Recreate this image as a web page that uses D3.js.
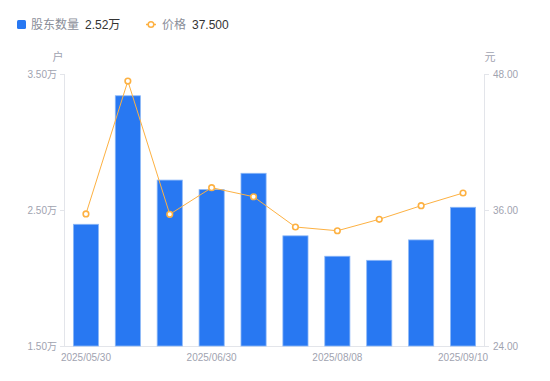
<!DOCTYPE html>
<html>
<head>
<meta charset="utf-8">
<style>
  body { margin: 0; background: #fff; }
  svg { font-family: "Liberation Sans", Arial, "Noto Sans CJK SC", sans-serif; }
</style>
</head>
<body>
<svg width="550" height="381"></svg>
<script src="https://d3js.org/d3.v7.min.js"></script>
<script>
// data
var dates = ["2025/05/30", "2025/06/10", "2025/06/20", "2025/06/30", "2025/07/10",
             "2025/07/31", "2025/08/08", "2025/08/20", "2025/08/31", "2025/09/10"];
var holders = [2.395, 3.34, 2.72, 2.65, 2.77, 2.31, 2.16, 2.13, 2.28, 2.52];   // 万户
var prices = [35.65, 47.38, 35.62, 37.97, 37.17, 34.5, 34.17, 35.18, 36.38, 37.5];
var leftTicks = [1.5, 2.5, 3.5];
var rightTicks = [24, 36, 48];
var shownDates = ["2025/05/30", "2025/06/30", "2025/08/08", "2025/09/10"];

var blue = "#2878F2", orange = "#FDB142", grey = "#9fa3b0", lineGrey = "#e3e5ea";

var svg = d3.select("svg");
var mLeft = 65, mRight = 484, mTop = 74, mBottom = 346;

var x = d3.scaleBand().domain(dates).range([mLeft, mRight]).padding(0);
var yL = d3.scaleLinear().domain([1.5, 3.5]).range([mBottom, mTop]);
var yR = d3.scaleLinear().domain([24, 48]).range([mBottom, mTop]);

// legend
var lg = svg.append("g").attr("font-size", 12);
lg.append("rect").attr("x", 17).attr("y", 20).attr("width", 9).attr("height", 9)
  .attr("rx", 1.5).attr("fill", blue);
lg.append("text").attr("x", 31).attr("y", 28.5).attr("fill", "#8a8e99").text("股东数量");
lg.append("text").attr("x", 85).attr("y", 28.5).attr("fill", "#333").text(d3.format(".2f")(holders[holders.length - 1]) + "万");
lg.append("line").attr("x1", 146).attr("x2", 156).attr("y1", 24.5).attr("y2", 24.5)
  .attr("stroke", orange).attr("stroke-width", 1.5);
lg.append("circle").attr("cx", 151).attr("cy", 24.5).attr("r", 2.8)
  .attr("fill", "#fff").attr("stroke", orange).attr("stroke-width", 1.5);
lg.append("text").attr("x", 162).attr("y", 28.5).attr("fill", "#8a8e99").text("价格");
lg.append("text").attr("x", 192).attr("y", 28.5).attr("fill", "#333").text(d3.format(".3f")(prices[prices.length - 1]));

// unit labels
svg.append("text").attr("x", 58).attr("y", 61).attr("text-anchor", "middle")
  .attr("font-size", 11).attr("fill", grey).text("户");
svg.append("text").attr("x", 490).attr("y", 61).attr("text-anchor", "middle")
  .attr("font-size", 11).attr("fill", grey).text("元");

// axes
var axL = svg.append("g").attr("transform", "translate(" + mLeft + ",0)")
  .call(d3.axisLeft(yL).tickValues(leftTicks).tickSize(5).tickPadding(3)
    .tickFormat(function(d) { return d3.format(".2f")(d) + "万"; }));
var axR = svg.append("g").attr("transform", "translate(" + mRight + ",0)")
  .call(d3.axisRight(yR).tickValues(rightTicks).tickSize(5).tickPadding(4)
    .tickFormat(d3.format(".2f")));
var axB = svg.append("g").attr("transform", "translate(0," + mBottom + ")")
  .call(d3.axisBottom(x).tickValues(shownDates).tickSize(0).tickPadding(8));

[axL, axR, axB].forEach(function(a) {
  a.select(".domain").attr("stroke", lineGrey);
  a.selectAll(".tick line").attr("stroke", lineGrey);
  a.selectAll("text").attr("fill", grey).attr("font-size", 10)
    .attr("font-family", "\"Liberation Sans\", Arial, \"Noto Sans CJK SC\", sans-serif");
});
axB.select(".domain").attr("d", "M" + mLeft + ",0.5H" + mRight);
axL.select(".domain").attr("d", "M-0.5," + mTop + "V" + mBottom);
axR.select(".domain").attr("d", "M0.5," + mTop + "V" + mBottom);

// bars
var bw = x.bandwidth() * 0.6;
svg.append("g").selectAll("rect").data(holders).join("rect")
  .attr("x", function(d, i) { return x(dates[i]) + (x.bandwidth() - bw) / 2; })
  .attr("y", function(d) { return yL(d); })
  .attr("width", bw)
  .attr("height", function(d) { return mBottom - yL(d); })
  .attr("fill", blue)
  .attr("stroke", "#8db8f7").attr("stroke-width", 0.8);

// price line
var line = d3.line()
  .x(function(d, i) { return x(dates[i]) + x.bandwidth() / 2; })
  .y(function(d) { return yR(d); });
svg.append("path").attr("d", line(prices)).attr("fill", "none")
  .attr("stroke", orange).attr("stroke-width", 1);
svg.append("g").selectAll("circle").data(prices).join("circle")
  .attr("cx", function(d, i) { return x(dates[i]) + x.bandwidth() / 2; })
  .attr("cy", function(d) { return yR(d); })
  .attr("r", 2.8)
  .attr("fill", "#fff").attr("stroke", orange).attr("stroke-width", 1.6);
</script>
</body>
</html>
